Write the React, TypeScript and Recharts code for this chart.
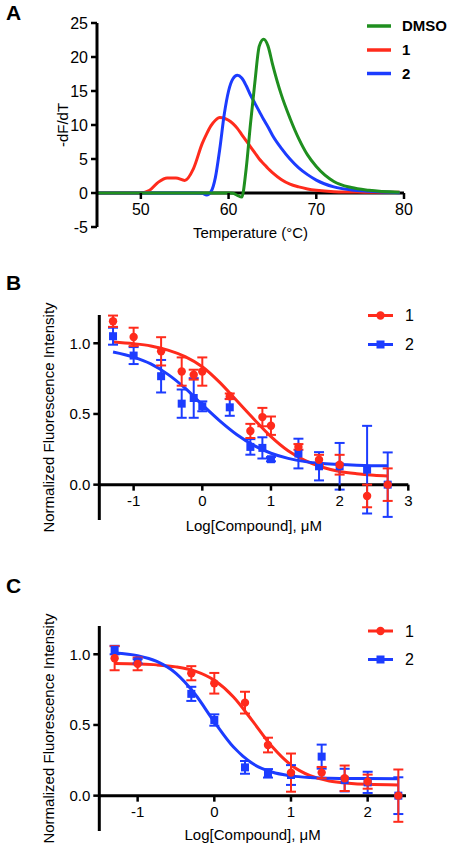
import {
  ComposedChart,
  LineChart,
  Line,
  Scatter,
  ErrorBar,
  XAxis,
  YAxis,
  ReferenceLine,
} from "recharts";

const GREEN = "#1f8f1f";
const RED = "#ff2b1c";
const BLUE = "#1c3cff";
const FONT = '"Liberation Sans", Arial, sans-serif';

// Panel A: -dF/dT melt curves
const temps = [
  45, 50, 51, 52, 53, 54, 55, 56, 57, 57.5, 58, 58.5, 59, 59.5, 60, 60.5, 61,
  61.5, 62, 62.5, 63, 63.5, 64, 64.5, 65, 66, 67, 68, 69, 70, 72, 74, 76, 79.5,
];
const dmso = [
  0, 0, 0, 0, 0, 0, 0, 0, 0, 0, 0, 0, 0, 0, 0, -0.05, -0.35, -0.6, 3.5, 10.2,
  16.3, 21.6, 22.6, 21.6, 19.0, 14.5, 11.0, 8.0, 5.6, 3.9, 1.7, 0.8, 0.4, 0.1,
];
const cmpd1 = [
  0, 0, 0.4, 1.6, 2.2, 2.2, 1.85, 3.6, 7.3, 8.7, 9.9, 10.7, 11.1, 11.0, 10.7,
  10.2, 9.5, 8.6, 7.7, 6.8, 5.9, 5.0, 4.3, 3.6, 3.0, 2.0, 1.3, 0.9, 0.6, 0.4,
  0.2, 0.15, 0.1, 0.1,
];
const cmpd2 = [
  0, 0, 0, 0, 0, 0, 0, 0, -0.05, -0.3, 0.2, 2.3, 6.5, 11.5, 15.0, 16.8, 17.3,
  16.9, 15.8, 14.4, 13.2, 12.0, 10.8, 9.7, 8.5, 6.6, 5.0, 3.7, 2.7, 1.9, 0.9,
  0.45, 0.25, 0.05,
];
const meltTicksX = [50, 60, 70, 80];
const meltTicksY = [-5, 0, 5, 10, 15, 20, 25];

// Panel B: dose response
const bLogConc = [-1.3, -1.0, -0.6, -0.3, -0.125, 0, 0.4, 0.7, 0.875, 1.0, 1.4, 1.7, 2.0, 2.4, 2.7];
const bRed = [1.156, 1.045, 0.943, 0.8, 0.778, 0.8, 0.625, 0.38, 0.478, 0.417, 0.267, 0.176, 0.141, -0.08, 0.0];
const bRedErr = [0.04, 0.065, 0.1, 0.1, 0.035, 0.1, 0.02, 0.05, 0.065, 0.065, 0.02, 0.035, 0.07, 0.08, 0.115];
const bBlue = [1.05, 0.913, 0.767, 0.573, 0.613, 0.554, 0.547, 0.267, 0.26, 0.18, 0.22, 0.13, 0.13, 0.106, 0.0];
const bBlueErr = [0.06, 0.06, 0.115, 0.1, 0.14, 0.035, 0.06, 0.055, 0.075, 0.015, 0.105, 0.1, 0.165, 0.31, 0.228];
const bFitX = [-1.3, -1, -0.75, -0.5, -0.25, 0, 0.25, 0.5, 0.75, 1, 1.25, 1.5, 1.75, 2, 2.25, 2.5, 2.7];
const bRedFit = [1.009, 0.997, 0.981, 0.952, 0.906, 0.834, 0.725, 0.595, 0.465, 0.34, 0.24, 0.17, 0.123, 0.093, 0.077, 0.067, 0.062];
const bBlueFit = [0.938, 0.902, 0.854, 0.78, 0.682, 0.565, 0.453, 0.355, 0.278, 0.222, 0.186, 0.163, 0.15, 0.142, 0.137, 0.134, 0.133];

// Panel C: dose response
const cLogConc = [-1.3, -1.0, -0.3, 0, 0.4, 0.7, 1.0, 1.4, 1.7, 2.0, 2.4];
const cRed = [0.972, 0.932, 0.866, 0.795, 0.658, 0.358, 0.163, 0.163, 0.123, 0.099, 0.0];
const cRedErr = [0.085, 0.045, 0.05, 0.073, 0.077, 0.052, 0.135, 0.04, 0.09, 0.05, 0.185];
const cBlue = [1.03, 0.95, 0.72, 0.535, 0.2, 0.158, 0.146, 0.276, 0.11, 0.094, 0.0];
const cBlueErr = [0.03, 0.015, 0.05, 0.04, 0.045, 0.03, 0.07, 0.085, 0.08, 0.075, 0.13];
const cFitX = [-1.3, -1, -0.75, -0.5, -0.25, 0, 0.25, 0.5, 0.75, 1, 1.25, 1.5, 1.75, 2, 2.4];
const cRedFit = [0.934, 0.931, 0.925, 0.911, 0.881, 0.816, 0.698, 0.527, 0.349, 0.217, 0.141, 0.104, 0.088, 0.08, 0.076];
const cBlueFit = [1.009, 0.99, 0.949, 0.865, 0.717, 0.522, 0.344, 0.227, 0.167, 0.14, 0.128, 0.123, 0.121, 0.121, 0.12];

const Y_MIN = -0.25;
const Y_MAX = 1.2;
const doseTicksY = [0, 0.5, 1];

const meltData = temps.map((t, i) => ({ t, dmso: dmso[i], c1: cmpd1[i], c2: cmpd2[i] }));
const toPts = (xs: number[], ys: number[], es: number[]) =>
  xs.map((x, i) => ({ x, y: ys[i], e: es[i] }));
const toCurve = (xs: number[], ys: number[]) => xs.map((x, i) => ({ x, y: ys[i] }));

// x-axis sits on y = 0, so ticks are drawn up from the plot bottom
const zeroTick = (shift: number, fontSize: number) => (props: any) => {
  const { x, y, payload } = props;
  const y0 = y - shift;
  return (
    <g>
      <line x1={x} x2={x} y1={y0} y2={y0 + 6} stroke="#000" strokeWidth={2.5} />
      <text x={x} y={y0 + 11} dy="0.71em" textAnchor="middle" fontSize={fontSize} fill="#000">
        {payload.value}
      </text>
    </g>
  );
};

const dot = (color: string) => (p: any) => <circle cx={p.cx} cy={p.cy} r={4.2} fill={color} />;
const square = (color: string) => (p: any) => (
  <rect x={p.cx - 4} y={p.cy - 4} width={8} height={8} fill={color} />
);

function MeltChart() {
  const plotH = 204;
  const shift = (plotH * (0 - -5)) / 30;
  return (
    <LineChart width={450} height={250} data={meltData} margin={{ top: 23, right: 46, bottom: 0, left: 37 }}>
      <XAxis
        type="number"
        dataKey="t"
        domain={[45, 80]}
        ticks={meltTicksX}
        interval={0}
        axisLine={false}
        tickLine={false}
        tickSize={0}
        tickMargin={0}
        height={23}
        tick={zeroTick(shift, 16)}
        label={{ value: "Temperature (°C)", position: "insideBottom", offset: 12, fill: "#000", fontSize: 15 }}
      />
      <YAxis
        type="number"
        domain={[-5, 25]}
        ticks={meltTicksY}
        interval={0}
        allowDataOverflow
        width={60}
        tick={{ fill: "#000", fontSize: 16 }}
        tickSize={6}
        tickMargin={3}
        tickLine={{ stroke: "#000", strokeWidth: 2.5 }}
        axisLine={{ stroke: "#000", strokeWidth: 3 }}
        label={{
          value: "-dF/dT",
          angle: -90,
          position: "insideLeft",
          offset: 26,
          fill: "#000",
          fontSize: 15,
          style: { textAnchor: "middle" },
        }}
      />
      <ReferenceLine y={0} stroke="#000" strokeWidth={3} />
      <Line type="monotone" dataKey="c1" stroke={RED} strokeWidth={3} dot={false} isAnimationActive={false} />
      <Line type="monotone" dataKey="c2" stroke={BLUE} strokeWidth={3} dot={false} isAnimationActive={false} />
      <Line type="monotone" dataKey="dmso" stroke={GREEN} strokeWidth={3} dot={false} isAnimationActive={false} />
    </LineChart>
  );
}

type DoseProps = {
  xMax: number;
  xTicks: number[];
  height: number;
  top: number;
  bottom: number;
  axisH: number;
  right: number;
  titleOffset: number;
  redFit: { x: number; y: number }[];
  blueFit: { x: number; y: number }[];
  redPts: { x: number; y: number; e: number }[];
  bluePts: { x: number; y: number; e: number }[];
};

function DoseChart(p: DoseProps) {
  const plotH = p.height - p.top - p.bottom - p.axisH;
  const shift = (plotH * (0 - Y_MIN)) / (Y_MAX - Y_MIN);
  return (
    <ComposedChart width={450} height={p.height} margin={{ top: p.top, right: p.right, bottom: p.bottom, left: 39.3 }}>
      <XAxis
        type="number"
        dataKey="x"
        domain={[-1.5, p.xMax]}
        ticks={p.xTicks}
        interval={0}
        allowDataOverflow
        axisLine={false}
        tickLine={false}
        tickSize={0}
        tickMargin={0}
        height={p.axisH}
        tick={zeroTick(shift, 15)}
        label={{ value: "Log[Compound], μM", position: "insideBottom", offset: p.titleOffset, fill: "#000", fontSize: 15 }}
      />
      <YAxis
        type="number"
        domain={[Y_MIN, Y_MAX]}
        ticks={doseTicksY}
        interval={0}
        allowDataOverflow
        width={60}
        tickFormatter={(v: number) => v.toFixed(1)}
        tick={{ fill: "#000", fontSize: 15 }}
        tickSize={6}
        tickMargin={3}
        tickLine={{ stroke: "#000", strokeWidth: 2.5 }}
        axisLine={{ stroke: "#000", strokeWidth: 3 }}
        label={{
          value: "Normalized Fluorescence Intensity",
          angle: -90,
          position: "insideLeft",
          offset: 9,
          fill: "#000",
          fontSize: 15,
          style: { textAnchor: "middle" },
        }}
      />
      <ReferenceLine y={0} stroke="#000" strokeWidth={3} />
      <Line data={p.redFit} type="monotone" dataKey="y" stroke={RED} strokeWidth={3} dot={false} isAnimationActive={false} />
      <Line data={p.blueFit} type="monotone" dataKey="y" stroke={BLUE} strokeWidth={3} dot={false} isAnimationActive={false} />
      <Scatter data={p.bluePts} dataKey="y" shape={square(BLUE)} isAnimationActive={false}>
        <ErrorBar dataKey="e" direction="y" width={5} stroke={BLUE} strokeWidth={2} />
      </Scatter>
      <Scatter data={p.redPts} dataKey="y" shape={dot(RED)} isAnimationActive={false}>
        <ErrorBar dataKey="e" direction="y" width={5} stroke={RED} strokeWidth={2} />
      </Scatter>
    </ComposedChart>
  );
}

function Overlay() {
  const doseLegend = (y1: number, y2: number) => (
    <g>
      <line x1={368} x2={393} y1={y1} y2={y1} stroke={RED} strokeWidth={3} />
      <circle cx={380.5} cy={y1} r={4.2} fill={RED} />
      <text x={405} y={y1 + 5.8} fontSize={16} fill="#000">1</text>
      <line x1={368} x2={393} y1={y2} y2={y2} stroke={BLUE} strokeWidth={3} />
      <rect x={376.5} y={y2 - 4} width={8} height={8} fill={BLUE} />
      <text x={405} y={y2 + 5.8} fontSize={16} fill="#000">2</text>
    </g>
  );
  const meltLegend = [
    { name: "DMSO", color: GREEN, y: 26 },
    { name: "1", color: RED, y: 50 },
    { name: "2", color: BLUE, y: 73.5 },
  ];
  return (
    <svg width={450} height={846} style={{ position: "absolute", left: 0, top: 0, pointerEvents: "none" }}>
      <g fontWeight="bold" fontSize={21} fill="#000">
        <text x={6} y={20}>A</text>
        <text x={6} y={290}>B</text>
        <text x={6} y={593}>C</text>
      </g>
      {meltLegend.map((d) => (
        <g key={d.name}>
          <line x1={367} x2={391} y1={d.y} y2={d.y} stroke={d.color} strokeWidth={3.5} />
          <text x={402} y={d.y + 5.4} fontSize={15} fontWeight="bold" fill="#000">{d.name}</text>
        </g>
      ))}
      {doseLegend(315.5, 344.5)}
      {doseLegend(631, 659.5)}
    </svg>
  );
}

export default function App() {
  return (
    <div style={{ position: "absolute", left: 0, top: 0, width: 450, height: 846, background: "#fff", fontFamily: FONT }}>
      <div style={{ position: "absolute", left: 0, top: 0 }}>
        <MeltChart />
      </div>
      <div style={{ position: "absolute", left: 0, top: 270 }}>
        <DoseChart
          xMax={3}
          xTicks={[-1, 0, 1, 2, 3]}
          height={290}
          top={45}
          bottom={10}
          axisH={30}
          right={41.7}
          titleOffset={19}
          redFit={toCurve(bFitX, bRedFit)}
          blueFit={toCurve(bFitX, bBlueFit)}
          redPts={toPts(bLogConc, bRed, bRedErr)}
          bluePts={toPts(bLogConc, bBlue, bBlueErr)}
        />
      </div>
      <div style={{ position: "absolute", left: 0, top: 585 }}>
        <DoseChart
          xMax={2.5}
          xTicks={[-1, 0, 1, 2]}
          height={261}
          top={41}
          bottom={1}
          axisH={14}
          right={44}
          titleOffset={5}
          redFit={toCurve(cFitX, cRedFit)}
          blueFit={toCurve(cFitX, cBlueFit)}
          redPts={toPts(cLogConc, cRed, cRedErr)}
          bluePts={toPts(cLogConc, cBlue, cBlueErr)}
        />
      </div>
      <Overlay />
    </div>
  );
}
